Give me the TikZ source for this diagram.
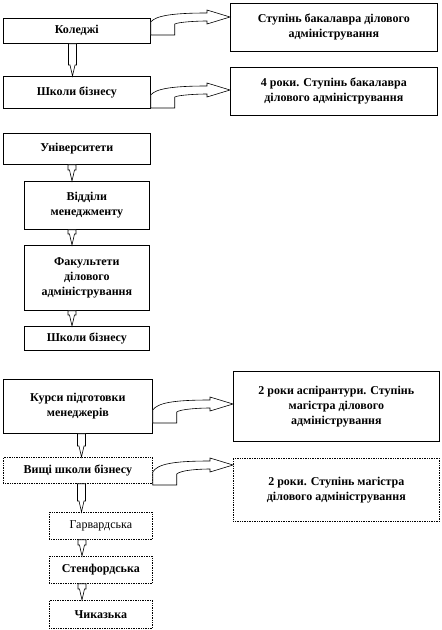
\documentclass[tikz,border=0pt]{standalone}
\usepackage{fontspec}
\setmainfont{Liberation Serif}
\usetikzlibrary{calc}

% narrow block arrow pointing down, at x = #3
\newcommand\vlink[3]{%
  \draw[barr] let \p1=(#1.south), \p2=(#2.north), \p3=(#3,0) in
    (\x3-4pt,\y1) -- (\x3+4pt,\y1) -- (\x3+4pt,\y2+11pt) -- (\x3+2.5pt,\y2+11pt)
    -- (\x3,\y2) -- (\x3-2.5pt,\y2+11pt) -- (\x3-4pt,\y2+11pt) -- cycle;}
% bent block arrow from the right side of #1 to the left side of #2
\newcommand\bendlink[4]{%
  \draw[barr] let \p1=(#1.east), \p2=(#2.west), \p3=(0,#3), \p4=(0,#4) in
    (\x1,\y3) -- (\x1+24pt,\y3) -- (\x1+24pt,\y3+11pt)
    .. controls (\x1+28pt,\y4-5pt) and (\x2-33pt,\y4-4pt) .. (\x2-23pt,\y4-4pt)
    -- (\x2-23pt,\y4-7pt) -- (\x2,\y4) -- (\x2-23pt,\y4+7pt) -- (\x2-23pt,\y4+4pt)
    .. controls (\x1+20pt,\y4+4pt) and (\x1+5pt,\y4+1pt) .. (\x1,\y3+13pt) -- cycle;}

\begin{document}
\begin{tikzpicture}[x=1pt,y=-1pt,
  box/.style={rectangle,draw,line width=0.7pt,fill=white,inner sep=0pt,
              anchor=north west,align=center,
              font=\bfseries\fontsize{12}{15}\selectfont},
  dbox/.style={box,densely dotted},
  barr/.style={draw,line width=0.6pt,fill=white,line join=miter}]
\useasboundingbox (0,0) rectangle (442,630);

% colleges
\node[box,minimum width=147pt,minimum height=25pt] (kol) at (3,18) {Коледжі};
\node[box,minimum width=207pt,minimum height=48pt] (bak) at (230,3)
  {Ступінь бакалавра ділового\\адміністрування};
\node[box,minimum width=147pt,minimum height=32pt] (shb) at (3,76) {Школи бізнесу};
\node[box,minimum width=207pt,minimum height=48pt] (bak4) at (230,67)
  {4 роки. Ступінь бакалавра\\ділового адміністрування};

% universities
\node[box,minimum width=147pt,minimum height=31pt] (uni) at (3,133) {Університети};
\node[box,minimum width=125pt,minimum height=48pt] (vid) at (24,181)
  {Відділи\\менеджменту};
\node[box,minimum width=125pt,minimum height=65pt] (fak) at (24,245)
  {Факультети\\ділового\\адміністрування};
\node[box,minimum width=125pt,minimum height=24pt] (shb2) at (24,326) {Школи бізнесу};

% graduate level
\node[box,minimum width=149pt,minimum height=54pt] (kur) at (3,379)
  {Курси підготовки\\менеджерів};
\node[box,minimum width=206pt,minimum height=70pt] (asp) at (233,371)
  {2 роки аспірантури. Ступінь\\магістра ділового\\адміністрування};
\node[dbox,minimum width=149pt,minimum height=26pt] (vsh) at (3,457)
  {Вищі школи бізнесу};
\node[dbox,minimum width=206pt,minimum height=63pt] (mag) at (233,458)
  {2 роки. Ступінь магістра\\ділового адміністрування};
\node[dbox,minimum width=103pt,minimum height=27pt,
      font=\fontsize{12}{15}\selectfont] (har) at (49,512) {Гарвардська};
\node[dbox,minimum width=103pt,minimum height=27pt] (sta) at (49,556) {Стенфордська};
\node[dbox,minimum width=103pt,minimum height=28pt] (chi) at (49,600) {Чиказька};

\vlink{kol}{shb}{72.5}
\vlink{uni}{vid}{72}
\vlink{vid}{fak}{72}
\vlink{fak}{shb2}{72}
\vlink{kur}{vsh}{81.5}
\vlink{vsh}{har}{81.5}
\vlink{har}{sta}{82}
\vlink{sta}{chi}{82}

\bendlink{kol}{bak}{35}{17}
\bendlink{shb}{bak4}{108}{90}
\bendlink{kur}{asp}{423}{404}
\bendlink{vsh}{mag}{485}{465}
\end{tikzpicture}
\end{document}
